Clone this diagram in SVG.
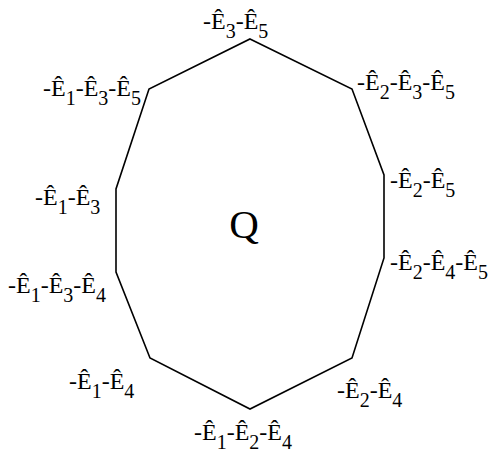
<svg xmlns="http://www.w3.org/2000/svg" width="493" height="460" viewBox="0 0 493 460">
<style>
text{font-family:'Liberation Serif','Times New Roman',serif;fill:#000}
.lbl{font-size:24px}
.s{font-size:20px}
.edge{fill:none;stroke:#000;stroke-width:1.6;stroke-linejoin:miter}
</style>
<rect width="493" height="460" fill="#fff"/>
<g id="connectors">
<polygon class="edge" points="250,39 352,89 384,175 384,258 352,358 250,409 150,358 116,272 116,189 149,89"/>
</g>
<g id="Q"><text x="244" y="238" text-anchor="middle" font-size="41">Q</text></g>
<g id="v1"><text class="lbl" x="203" y="29">-Ê<tspan class="s" dy="9">3</tspan><tspan dy="-9">-Ê</tspan><tspan class="s" dy="9">5</tspan></text></g>
<g id="v2"><text class="lbl" x="43" y="96">-Ê<tspan class="s" dy="9">1</tspan><tspan dy="-9">-Ê</tspan><tspan class="s" dy="9">3</tspan><tspan dy="-9">-Ê</tspan><tspan class="s" dy="9">5</tspan></text></g>
<g id="v3"><text class="lbl" x="357" y="90">-Ê<tspan class="s" dy="9">2</tspan><tspan dy="-9">-Ê</tspan><tspan class="s" dy="9">3</tspan><tspan dy="-9">-Ê</tspan><tspan class="s" dy="9">5</tspan></text></g>
<g id="v4"><text class="lbl" x="35" y="205">-Ê<tspan class="s" dy="9">1</tspan><tspan dy="-9">-Ê</tspan><tspan class="s" dy="9">3</tspan></text></g>
<g id="v5"><text class="lbl" x="390" y="188">-Ê<tspan class="s" dy="9">2</tspan><tspan dy="-9">-Ê</tspan><tspan class="s" dy="9">5</tspan></text></g>
<g id="v6"><text class="lbl" x="8" y="293">-Ê<tspan class="s" dy="9">1</tspan><tspan dy="-9">-Ê</tspan><tspan class="s" dy="9">3</tspan><tspan dy="-9">-Ê</tspan><tspan class="s" dy="9">4</tspan></text></g>
<g id="v7"><text class="lbl" x="390" y="270">-Ê<tspan class="s" dy="9">2</tspan><tspan dy="-9">-Ê</tspan><tspan class="s" dy="9">4</tspan><tspan dy="-9">-Ê</tspan><tspan class="s" dy="9">5</tspan></text></g>
<g id="v8"><text class="lbl" x="69" y="389">-Ê<tspan class="s" dy="9">1</tspan><tspan dy="-9">-Ê</tspan><tspan class="s" dy="9">4</tspan></text></g>
<g id="v9"><text class="lbl" x="337" y="398">-Ê<tspan class="s" dy="9">2</tspan><tspan dy="-9">-Ê</tspan><tspan class="s" dy="9">4</tspan></text></g>
<g id="v10"><text class="lbl" x="194" y="440">-Ê<tspan class="s" dy="9">1</tspan><tspan dy="-9">-Ê</tspan><tspan class="s" dy="9">2</tspan><tspan dy="-9">-Ê</tspan><tspan class="s" dy="9">4</tspan></text></g>
</svg>
